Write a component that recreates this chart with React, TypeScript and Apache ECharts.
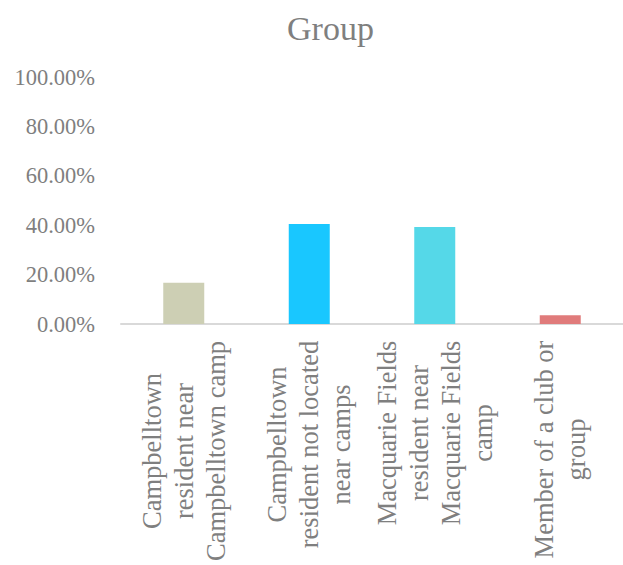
import React, { useEffect, useRef } from "react";
import * as echarts from "echarts";

const TITLE = "Group";
const categories: string[] = [
  "Campbelltown\nresident near\nCampbelltown camp",
  "Campbelltown\nresident not located\nnear camps",
  "Macquarie Fields\nresident near\nMacquarie Fields\ncamp",
  "Member of a club or\ngroup",
];
const values: number[] = [0.1667, 0.4048, 0.3929, 0.0357];
const colors: string[] = ["#cdcfb4", "#19c7ff", "#55d8e8", "#e07b7b"];
const yTicks = { min: 0, max: 1, interval: 0.2 };

const FONT = "'Liberation Serif', 'Times New Roman', serif";
const GRAY = "#7f7f7f";
const CAT_SIZE = 26.5;

function measure(text: string, size: number): number {
  const c = document.createElement("canvas");
  const ctx = c.getContext("2d");
  if (!ctx) return text.length * size * 0.5;
  ctx.font = `${size}px ${FONT}`;
  return ctx.measureText(text).width;
}

export default function App() {
  const ref = useRef<HTMLDivElement>(null);
  useEffect(() => {
    if (!ref.current) return;
    const chart = echarts.init(ref.current, null, { renderer: "svg" });
    const rich: Record<string, any> = {};
    categories.forEach((cat, i) => {
      const w = Math.max(...cat.split("\n").map((l) => measure(l, CAT_SIZE)));
      rich["c" + i] = {
        width: Math.ceil(w) + 1,
        align: "center",
        fontFamily: FONT,
        fontSize: CAT_SIZE,
        lineHeight: 32,
        color: GRAY,
      };
    });
    chart.setOption({
      animation: false,
      backgroundColor: "#ffffff",
      title: {
        text: TITLE,
        left: 282,
        top: 6,
        textStyle: { fontFamily: FONT, fontSize: 34, fontWeight: "normal", color: GRAY },
      },
      grid: { left: 121, top: 77, width: 509, height: 248, containLabel: false },
      xAxis: {
        type: "category",
        data: categories,
        axisLine: { lineStyle: { color: "#d9d9d9", width: 2 } },
        axisTick: { show: false },
        axisLabel: {
          interval: 0,
          rotate: 90,
          margin: 16,
          formatter: (v: string, idx: number) =>
            v
              .split("\n")
              .map((l) => `{c${idx}|${l}}`)
              .join("\n"),
          rich,
        },
      },
      yAxis: {
        type: "value",
        min: yTicks.min,
        max: yTicks.max,
        interval: yTicks.interval,
        axisLine: { show: false },
        axisTick: { show: false },
        splitLine: { show: false },
        axisLabel: {
          margin: 26,
          fontFamily: FONT,
          fontSize: 22.5,
          color: GRAY,
          formatter: (v: number) => (v * 100).toFixed(2) + "%",
        },
      },
      series: [
        {
          type: "bar",
          data: values.map((v, i) => ({ value: v, itemStyle: { color: colors[i] } })),
          barWidth: 41,
        },
      ],
    });
    return () => chart.dispose();
  }, []);
  return (
    <div
      ref={ref}
      style={{ position: "fixed", left: 0, top: 0, width: 623, height: 565, background: "#fff" }}
    />
  );
}
